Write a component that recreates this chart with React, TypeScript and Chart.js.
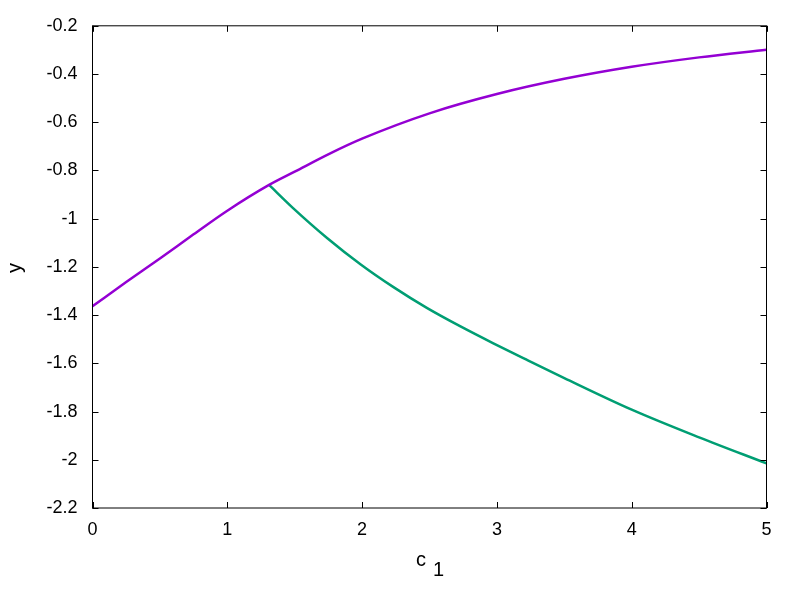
import React, { useEffect, useRef } from "react";
import { Chart, registerables } from "chart.js";

Chart.register(...registerables);

// Upper (purple) branch
const cPurple = [0, 0.25, 0.5, 0.75, 1.0, 1.31, 1.5, 1.76, 2.0, 2.5, 3.0, 3.5, 4.0, 4.5, 5.0];
const yPurple = [-1.363, -1.263, -1.165, -1.065, -0.967, -0.86, -0.805, -0.73, -0.668, -0.563, -0.483, -0.42, -0.37, -0.331, -0.299];

// Lower (green) branch
const cGreen = [1.31, 1.49, 1.74, 1.99, 2.23, 2.48, 2.73, 2.97, 3.22, 3.5, 4.0, 4.5, 5.0];
const yGreen = [-0.86, -0.957, -1.08, -1.19, -1.283, -1.37, -1.447, -1.516, -1.585, -1.661, -1.792, -1.907, -2.015];

const xTicks = [0, 1, 2, 3, 4, 5];
const yTicks = [-2.2, -2.0, -1.8, -1.6, -1.4, -1.2, -1.0, -0.8, -0.6, -0.4, -0.2];

const FONT = "'Liberation Sans', Arial, sans-serif";

const framePlugin = {
  id: "frame",
  afterDraw(chart: any) {
    const { ctx, chartArea: a, scales } = chart;
    ctx.save();
    ctx.strokeStyle = "#000";
    ctx.lineWidth = 1;
    const tl = 6;
    ctx.beginPath();
    for (const v of xTicks) {
      const px = Math.round(scales.x.getPixelForValue(v)) + 0.5;
      ctx.moveTo(px, a.bottom);
      ctx.lineTo(px, a.bottom - tl);
      ctx.moveTo(px, a.top);
      ctx.lineTo(px, a.top + tl);
    }
    for (const v of yTicks) {
      const py = Math.round(scales.y.getPixelForValue(v)) + 0.5;
      ctx.moveTo(a.left, py);
      ctx.lineTo(a.left + tl, py);
      ctx.moveTo(a.right, py);
      ctx.lineTo(a.right - tl, py);
    }
    ctx.stroke();
    ctx.strokeRect(a.left, a.top, a.right - a.left, a.bottom - a.top);

    // axis titles
    ctx.fillStyle = "#000";
    ctx.font = `20px ${FONT}`;
    ctx.textAlign = "left";
    ctx.textBaseline = "alphabetic";
    ctx.fillText("c", 416, 566);
    ctx.fillText("1", 433, 576);

    ctx.translate(15, 268);
    ctx.rotate(-Math.PI / 2);
    ctx.textAlign = "center";
    ctx.textBaseline = "middle";
    ctx.fillText("y", 0, 0);
    ctx.restore();
  },
};

export default function App() {
  const ref = useRef<HTMLCanvasElement | null>(null);
  useEffect(() => {
    if (!ref.current) return;
    const chart = new Chart(ref.current, {
      type: "line",
      data: {
        datasets: [
          {
            data: cPurple.map((c, i) => ({ x: c, y: yPurple[i] })),
            borderColor: "#9400d3",
            borderWidth: 2.5,
            pointRadius: 0,
            cubicInterpolationMode: "monotone",
            fill: false,
          },
          {
            data: cGreen.map((c, i) => ({ x: c, y: yGreen[i] })),
            borderColor: "#009e73",
            borderWidth: 2.5,
            pointRadius: 0,
            cubicInterpolationMode: "monotone",
            fill: false,
          },
        ],
      },
      options: {
        responsive: false,
        animation: false,
        layout: { padding: { left: 0, top: 21, right: 33.5, bottom: 0 } },
        plugins: { legend: { display: false }, tooltip: { enabled: false } },
        scales: {
          x: {
            type: "linear",
            min: 0,
            max: 5,
            afterBuildTicks: (s: any) => {
              s.ticks = xTicks.map((v) => ({ value: v }));
            },
            afterFit: (s: any) => {
              s.height = 92;
            },
            grid: { display: false, drawTicks: false },
            border: { display: false },
            ticks: {
              color: "#000",
              font: { family: FONT, size: 18 },
              padding: 11,
              maxRotation: 0,
            },
          },
          y: {
            type: "linear",
            min: -2.2,
            max: -0.2,
            afterBuildTicks: (s: any) => {
              s.ticks = yTicks.map((v) => ({ value: v }));
            },
            afterFit: (s: any) => {
              s.width = 92.5;
            },
            grid: { display: false, drawTicks: false },
            border: { display: false },
            ticks: {
              color: "#000",
              font: { family: FONT, size: 18 },
              padding: 15,
              callback: (v: any) => String(parseFloat(Number(v).toFixed(1))),
            },
          },
        },
      },
      plugins: [framePlugin],
    });
    return () => chart.destroy();
  }, []);
  return (
    <div style={{ position: "fixed", left: 0, top: 0, width: 800, height: 600, background: "#fff" }}>
      <canvas ref={ref} width={800} height={600} />
    </div>
  );
}
